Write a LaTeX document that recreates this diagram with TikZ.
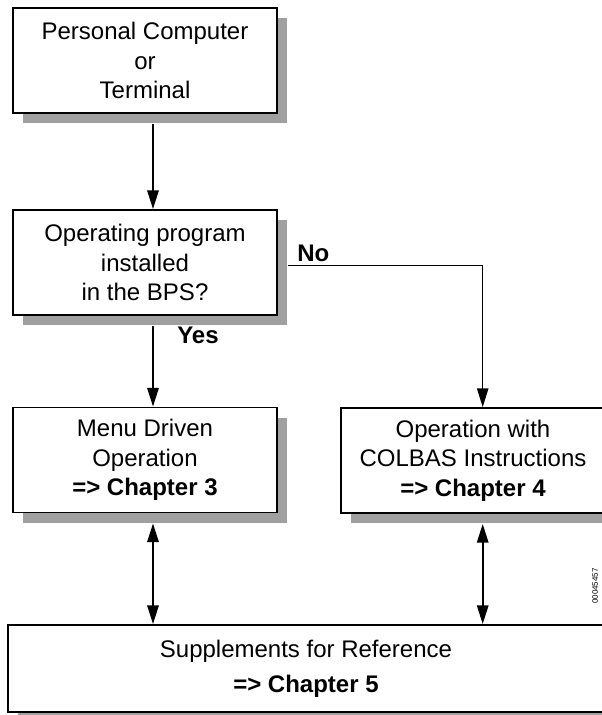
\documentclass[tikz,border=0pt]{standalone}
\usepackage{fontspec}
\setmainfont{Liberation Sans}
\usetikzlibrary{arrows.meta,shadows}
\definecolor{shadowGray}{RGB}{160,160,160}

\begin{document}
\begin{tikzpicture}
[x=0.75pt,y=-0.75pt,
  boxDecorate/.style={shape=rectangle,draw,line width=1.4pt,fill=white,
    minimum width=198pt,minimum height=78.75pt,align=center,inner sep=0pt,
    font=\fontsize{18}{22}\selectfont,
    drop shadow={shadow xshift=7.5pt,shadow yshift=-7.5pt,fill=shadowGray,opacity=1}},
  lineDecorate/.style={line width=1.5pt,-{Triangle[length=14pt,width=8.5pt]},shorten <=7.5pt},
  bothDecorate/.style={line width=1.5pt,{Triangle[length=14pt,width=8.5pt]}-{Triangle[length=14pt,width=8.5pt]},shorten <=7.5pt},
  thinDecorate/.style={line width=1pt,-{Triangle[length=14pt,width=8.5pt]}},
  labelDecorate/.style={anchor=base west,inner sep=0pt,font=\fontsize{18}{22}\selectfont\bfseries}]
\useasboundingbox (0,0) rectangle (602,715);
%% boxes
\node (pc) at (145,60.5) [boxDecorate] {Personal Computer\\or\\Terminal};
\node (query) at (145,262.5) [boxDecorate] {Operating program\\installed\\in the BPS?};
\node (menu) at (145,460) [boxDecorate] {Menu Driven\\Operation\\\textbf{=> Chapter 3}};
\node (colbas) at (473,460.5) [boxDecorate] {Operation with\\COLBAS Instructions\\\textbf{=> Chapter 4}};
\node (supp) at (306,668.5) [boxDecorate,minimum width=447pt,minimum height=65.25pt]
  {Supplements for Reference\\[4pt]\textbf{=> Chapter 5}};
\node (figId) at (595,586) [rotate=90,inner sep=0pt,font=\fontsize{6}{7}\selectfont] {00045457};
%% connectors
\coordinate (noKnee) at (482.7,265.7);
\draw[lineDecorate] ([xshift=6pt]pc.south) -- ([xshift=6pt]query.north);
\draw[lineDecorate] ([xshift=6pt]query.south) -- ([xshift=6pt]menu.north);
\draw[thinDecorate] ([xshift=7.5pt]query.east |- noKnee) -- (noKnee) -- (noKnee |- colbas.north);
\draw[bothDecorate] ([xshift=6pt]menu.south) -- ([xshift=6pt]menu.south |- supp.north);
\draw[bothDecorate] (noKnee |- colbas.south) -- (noKnee |- supp.north);
%% labels
\node (yesLabel) at (177,343) [labelDecorate] {Yes};
\node (noLabel) at (297,261) [labelDecorate] {No};
\end{tikzpicture}
\end{document}
